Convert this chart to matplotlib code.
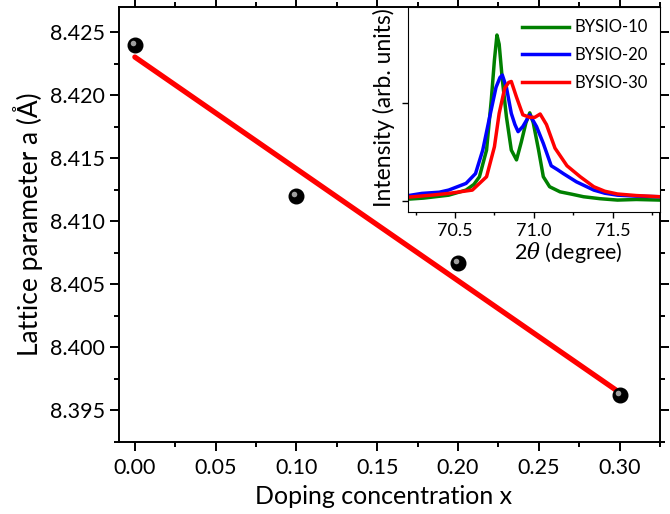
import numpy as np
import matplotlib
matplotlib.use('Agg')
import matplotlib.pyplot as plt
import matplotlib.transforms as mtransforms
from matplotlib.ticker import MultipleLocator, NullFormatter

plt.rcParams['font.family'] = ['Lato', 'DejaVu Sans']
plt.rcParams['mathtext.fontset'] = 'dejavuserif'

# lattice parameter vs doping
x_dop = [0.0, 0.1, 0.2, 0.3]
a_lat = [8.4240, 8.4120, 8.4067, 8.3962]

# inset XRD peaks (2theta, arb. intensity)
tt_10 = [70.19, 70.30, 70.46, 70.57, 70.62, 70.655, 70.70, 70.73, 70.75, 70.766, 70.78,
         70.80, 70.826, 70.857, 70.89, 70.92, 70.95, 70.974, 70.996, 71.03, 71.06,
         71.10, 71.166, 71.24, 71.315, 71.42, 71.53, 71.65, 71.80]
I_10 = [0.009, 0.015, 0.03, 0.056, 0.085, 0.124, 0.26, 0.515, 0.72, 0.847, 0.80,
        0.62, 0.43, 0.26, 0.21, 0.30, 0.40, 0.45, 0.40, 0.26, 0.124,
        0.073, 0.047, 0.035, 0.022, 0.012, 0.005, 0.008, 0.005]
tt_20 = [70.19, 70.29, 70.40, 70.46, 70.57, 70.63, 70.676, 70.72, 70.76, 70.785, 70.80,
         70.826, 70.857, 70.88, 70.90, 70.93, 70.974, 71.017, 71.06, 71.11, 71.15,
         71.187, 71.27, 71.38, 71.45, 71.53, 71.65, 71.80]
I_20 = [0.026, 0.039, 0.045, 0.056, 0.09, 0.14, 0.26, 0.43, 0.58, 0.63, 0.643,
        0.58, 0.447, 0.39, 0.354, 0.38, 0.44, 0.38, 0.294, 0.18, 0.16,
        0.14, 0.098, 0.056, 0.04, 0.03, 0.025, 0.022]
tt_30 = [70.19, 70.35, 70.46, 70.61, 70.70, 70.75, 70.78, 70.815, 70.84, 70.857, 70.89,
         70.93, 70.974, 71.006, 71.04, 71.08, 71.134, 71.21, 71.294, 71.38, 71.45,
         71.53, 71.65, 71.80]
I_30 = [0.019, 0.03, 0.039, 0.056, 0.124, 0.277, 0.447, 0.575, 0.605, 0.61, 0.53,
        0.44, 0.427, 0.427, 0.444, 0.39, 0.27, 0.18, 0.124, 0.073, 0.05,
        0.036, 0.028, 0.022]

fig = plt.figure(figsize=(6.7, 5.14), dpi=100)
ax = fig.add_axes([0.1772, 0.1401, 0.8079, 0.8463])

# linear fit
p = np.polyfit(x_dop, a_lat, 1)
xf = np.array([x_dop[0], x_dop[-1]])
ax.plot(xf, np.polyval(p, xf), color='red', lw=3.8, solid_capstyle='round', zorder=2)

# balls with a little highlight
ax.plot(x_dop, a_lat, 'o', color='black', ms=10.5, zorder=3)
hl = mtransforms.offset_copy(ax.transData, fig=fig, x=-1.5, y=1.5, units='points')
ax.plot(x_dop, a_lat, 'o', color='#b0b0b0', ms=4, mec='none', alpha=0.9,
        transform=hl, zorder=4)

ax.set_xlim(-0.01, 0.325)
ax.set_ylim(8.3925, 8.427)
ax.xaxis.set_major_locator(MultipleLocator(0.05))
ax.xaxis.set_minor_locator(MultipleLocator(0.025))
ax.yaxis.set_major_locator(MultipleLocator(0.005))
ax.yaxis.set_minor_locator(MultipleLocator(0.0025))
ax.xaxis.set_major_formatter(plt.FormatStrFormatter('%.2f'))
ax.yaxis.set_major_formatter(plt.FormatStrFormatter('%.3f'))
ax.tick_params(which='both', direction='out', top=True, right=True, width=1.4)
ax.tick_params(which='major', length=6.5, labelsize=15.5)
ax.tick_params(axis='x', which='major', pad=5)
ax.tick_params(which='minor', length=3.5)
for s in ax.spines.values():
    s.set_linewidth(1.4)
ax.set_xlabel('Doping concentration x', fontsize=18, va='center')
ax.set_ylabel('Lattice parameter a (Å)', fontsize=19, va='center')
ax.xaxis.set_label_coords(0.489, -0.125)
ax.yaxis.set_label_coords(-0.167, 0.5)

# inset
axi = fig.add_axes([0.6085, 0.5875, 0.3766, 0.3989])
axi.plot(tt_10, I_10, color='green', lw=2.5, label='BYSIO-10')
axi.plot(tt_20, I_20, color='blue', lw=2.5, label='BYSIO-20')
axi.plot(tt_30, I_30, color='red', lw=2.5, label='BYSIO-30')
axi.set_xlim(70.2, 71.8)
axi.set_ylim(-0.056, 0.99)
axi.xaxis.set_major_locator(MultipleLocator(0.5))
axi.xaxis.set_minor_locator(MultipleLocator(0.25))
axi.xaxis.set_major_formatter(plt.FormatStrFormatter('%.1f'))
axi.yaxis.set_major_locator(MultipleLocator(0.5))
axi.yaxis.set_major_formatter(NullFormatter())
axi.tick_params(which='both', direction='out', width=1)
axi.tick_params(which='major', length=4, labelsize=13, pad=4)
axi.tick_params(which='minor', length=2.5)
axi.set_xlabel(r'2$\mathit{\theta}$ (degree)', fontsize=15.5, va='center')
axi.set_ylabel('Intensity (arb. units)', fontsize=16.5, va='center')
axi.xaxis.set_label_coords(0.635, -0.195)
axi.yaxis.set_label_coords(-0.094, 0.51)
axi.legend(loc='upper right', frameon=False, fontsize=12, handlelength=2.8,
           handletextpad=0.3, labelspacing=0.7, borderaxespad=0.45, borderpad=0.3)

fig.savefig('out.png', dpi=100)
